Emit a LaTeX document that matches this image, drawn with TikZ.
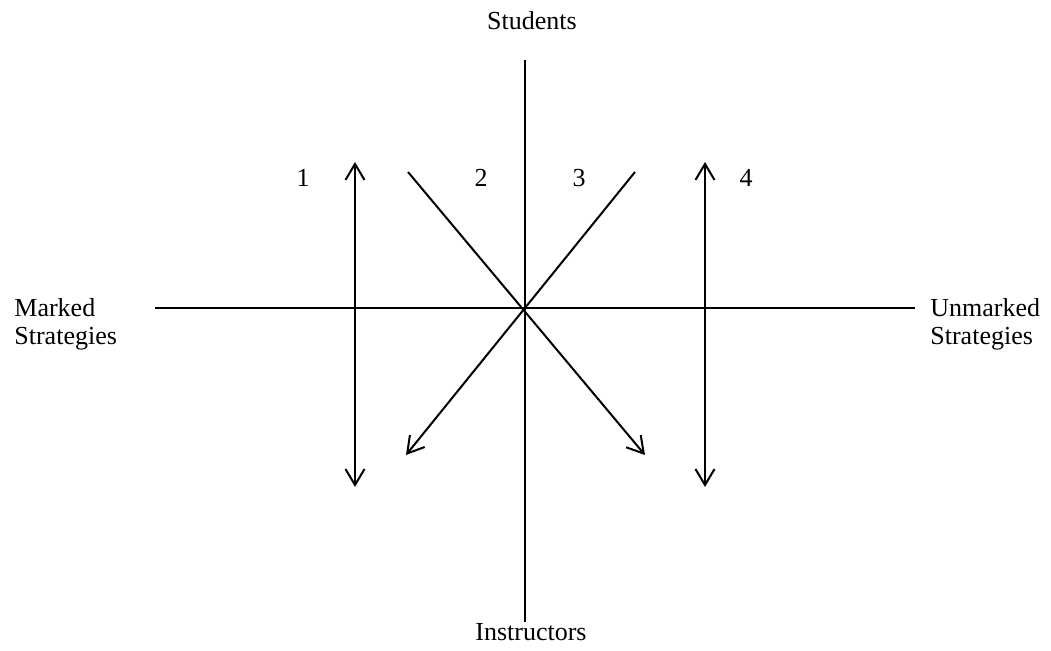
\documentclass[tikz,border=0pt]{standalone}
\usepackage{fontspec}
\setmainfont{Liberation Serif}
\usepackage{tikz}
\usetikzlibrary{arrows.meta,positioning,calc}
\tikzset{
  >={Straight Barb[length=8pt,width=9.5pt]},
  axis/.style ={line width=1pt},
  flow/.style ={->,line width=1pt},
  both/.style ={<->,line width=1pt},
  lbl/.style  ={inner sep=0pt,anchor=base},
  side/.style ={inner sep=0pt,anchor=west,align=left},
}

\begin{document}
\begin{tikzpicture}[x=0.5pt,y=-0.5pt,font=\fontsize{13}{14}\selectfont]
  \useasboundingbox (0,0) rectangle (1051,651);

  % axis ends
  \coordinate (top)    at (525,60);
  \coordinate (bottom) at (525,622);
  \coordinate (left)   at (155,308);
  \coordinate (right)  at (915,308);

  % axis labels
  \node[lbl]  (stud) at (532,30)  {Students};
  \node[lbl]  (inst) at (531,641) {Instructors};
  \node[side] (mark) at (14,324)  {Marked\\Strategies};
  \node[side] (unmk) at (930,324) {Unmarked\\Strategies};

  % arrow ends
  \coordinate (a1t) at (355,162);
  \coordinate (a1b) at (355,487);
  \coordinate (a2s) at (408,172);
  \coordinate (a2e) at (645,455);
  \coordinate (a3s) at (635,172);
  \coordinate (a3e) at (406,455);
  \coordinate (a4t) at (705,162);
  \coordinate (a4b) at (705,487);

  % numbers
  \node[lbl] (n1) at (303,187) {1};
  \node[lbl] (n2) at (481,187) {2};
  \node[lbl] (n3) at (579,187) {3};
  \node[lbl] (n4) at (746,187) {4};

  \draw[axis] (top)--(bottom);
  \draw[axis] (left)--(right);
  \draw[both] (a1t)--(a1b);
  \draw[flow] (a2s)--(a2e);
  \draw[flow] (a3s)--(a3e);
  \draw[both] (a4t)--(a4b);
\end{tikzpicture}
\end{document}
